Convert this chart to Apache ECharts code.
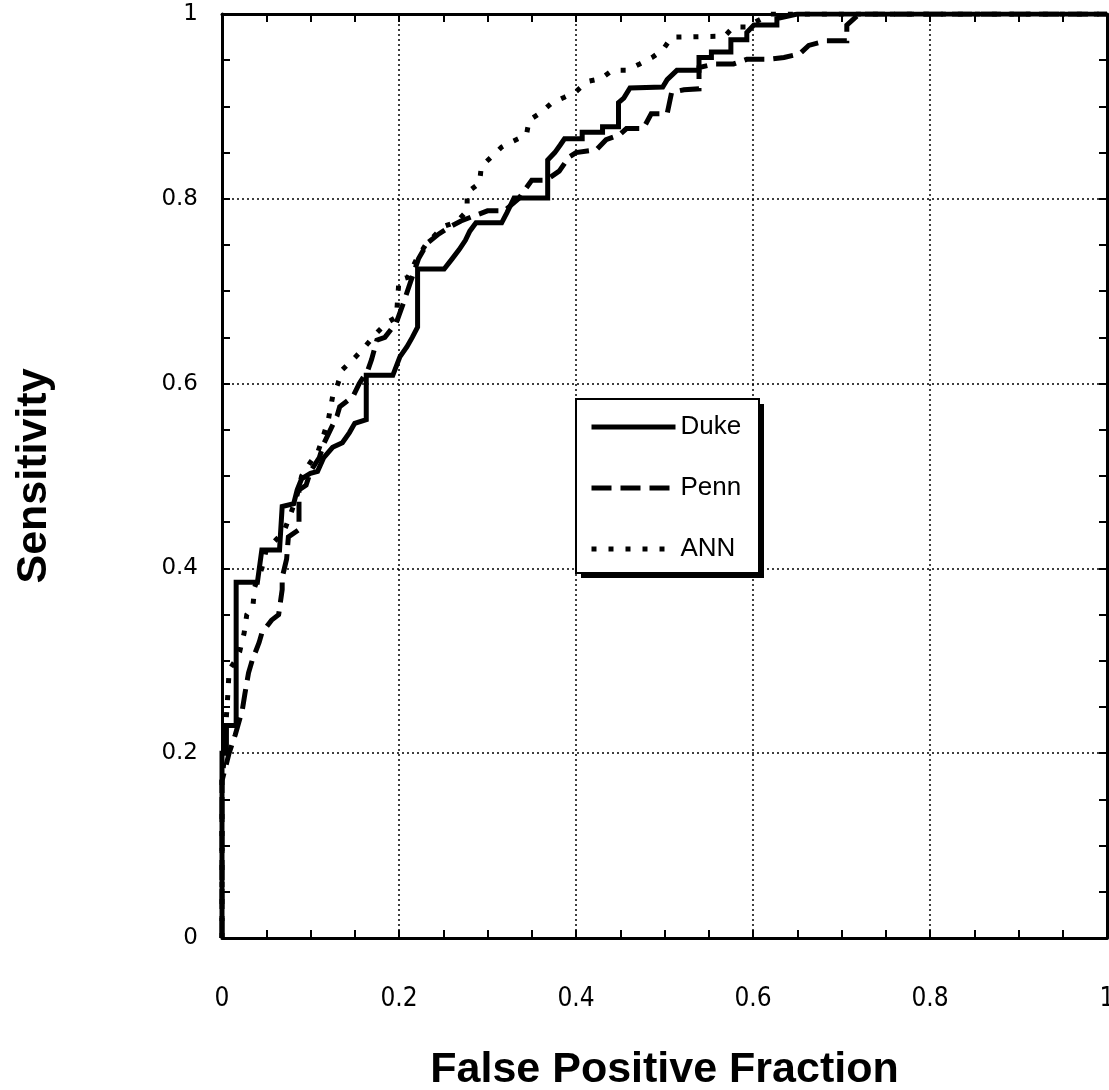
<!DOCTYPE html>
<html>
<head>
<meta charset="utf-8">
<title>ROC</title>
<script src="https://cdn.jsdelivr.net/npm/echarts@6/dist/echarts.min.js"></script>
<style>
  html, body { margin: 0; padding: 0; background: #fff; }
  #main { width: 1109px; height: 1090px; }
</style>
</head>
<body>
<div id="main"></div>
<script>
// ROC curves, [false positive fraction, sensitivity]
var dukePoints = [
  [0,0],[0,0.2],[0.005,0.2],[0.005,0.23],[0.016,0.23],[0.016,0.385],[0.04,0.385],[0.045,0.42],
  [0.065,0.42],[0.068,0.467],[0.081,0.47],[0.085,0.485],[0.09,0.497],[0.1,0.503],[0.108,0.505],
  [0.115,0.52],[0.125,0.531],[0.136,0.536],[0.144,0.547],[0.15,0.557],[0.163,0.561],[0.163,0.609],
  [0.193,0.609],[0.201,0.629],[0.209,0.64],[0.215,0.65],[0.221,0.661],[0.221,0.724],[0.251,0.724],
  [0.26,0.735],[0.268,0.745],[0.275,0.755],[0.28,0.765],[0.287,0.774],[0.316,0.774],[0.322,0.785],
  [0.33,0.801],[0.368,0.801],[0.368,0.842],[0.376,0.85],[0.382,0.858],[0.387,0.865],[0.407,0.865],
  [0.407,0.872],[0.43,0.872],[0.43,0.878],[0.448,0.878],[0.448,0.904],[0.454,0.909],[0.461,0.92],
  [0.498,0.921],[0.503,0.929],[0.514,0.939],[0.539,0.939],[0.539,0.953],[0.553,0.953],[0.553,0.959],
  [0.575,0.959],[0.575,0.972],[0.593,0.972],[0.593,0.98],[0.601,0.988],[0.627,0.988],[0.627,0.995],
  [0.65,1],[1,1]
];
var pennPoints = [
  [0,0],[0,0.17],[0.008,0.2],[0.015,0.22],[0.023,0.247],[0.026,0.265],[0.03,0.287],[0.034,0.3],
  [0.042,0.32],[0.045,0.33],[0.056,0.344],[0.064,0.35],[0.068,0.377],[0.068,0.39],[0.073,0.41],
  [0.075,0.434],[0.087,0.442],[0.087,0.485],[0.095,0.49],[0.1,0.505],[0.11,0.52],[0.115,0.535],
  [0.12,0.545],[0.125,0.555],[0.13,0.565],[0.133,0.575],[0.148,0.586],[0.155,0.6],[0.165,0.615],
  [0.169,0.626],[0.175,0.647],[0.184,0.65],[0.197,0.666],[0.206,0.69],[0.213,0.71],[0.222,0.735],
  [0.232,0.752],[0.245,0.762],[0.258,0.77],[0.27,0.776],[0.3,0.787],[0.319,0.787],[0.335,0.8],
  [0.35,0.82],[0.366,0.82],[0.381,0.83],[0.392,0.845],[0.4,0.85],[0.423,0.853],[0.434,0.864],
  [0.449,0.869],[0.457,0.876],[0.476,0.876],[0.485,0.892],[0.503,0.892],[0.508,0.915],[0.522,0.918],
  [0.539,0.919],[0.539,0.942],[0.557,0.946],[0.578,0.946],[0.593,0.951],[0.617,0.951],[0.635,0.953],
  [0.653,0.957],[0.663,0.966],[0.683,0.971],[0.706,0.971],[0.706,0.988],[0.72,1],[1,1]
];
var annPoints = [
  [0,0],[0,0.17],[0.003,0.2],[0.005,0.24],[0.007,0.27],[0.008,0.29],[0.015,0.3],[0.02,0.31],
  [0.025,0.33],[0.028,0.35],[0.035,0.36],[0.037,0.38],[0.045,0.4],[0.05,0.42],[0.06,0.43],
  [0.07,0.44],[0.078,0.46],[0.085,0.48],[0.09,0.5],[0.1,0.515],[0.108,0.525],[0.115,0.545],
  [0.12,0.56],[0.125,0.586],[0.131,0.6],[0.136,0.615],[0.148,0.626],[0.158,0.636],[0.175,0.655],
  [0.185,0.665],[0.197,0.672],[0.2,0.712],[0.21,0.715],[0.22,0.735],[0.23,0.75],[0.24,0.76],
  [0.25,0.77],[0.265,0.775],[0.277,0.787],[0.277,0.807],[0.291,0.817],[0.293,0.835],[0.304,0.845],
  [0.316,0.856],[0.328,0.862],[0.344,0.869],[0.347,0.885],[0.36,0.893],[0.373,0.904],[0.387,0.91],
  [0.4,0.916],[0.413,0.927],[0.428,0.93],[0.441,0.939],[0.457,0.939],[0.472,0.946],[0.486,0.953],
  [0.498,0.961],[0.508,0.975],[0.568,0.976],[0.578,0.986],[0.595,0.986],[0.6,0.99],[0.62,1],[1,1]
];
var seriesNames = ['Duke', 'Penn', 'ANN'];

var myChart = echarts.init(document.getElementById('main'), null, { renderer: 'canvas' });

var gridDots = { color: '#000', width: 1.5, type: [2, 3] };
var axisBase = {
  type: 'value',
  min: 0,
  max: 1,
  interval: 0.2,
  axisLine: { show: true, onZero: false, lineStyle: { color: '#000', width: 3 } },
  axisTick: { show: true, inside: true, length: 8, lineStyle: { color: '#000', width: 2 } },
  minorTick: { show: true, splitNumber: 4, length: 8, lineStyle: { color: '#000', width: 2 } }
};
function axis(extra) {
  return Object.assign({}, axisBase, extra);
}

var options = {
  animation: false,
  backgroundColor: '#fff',
  grid: { left: 222, right: 2, top: 14, bottom: 152, outerBoundsMode: 'none', containLabel: false },
  // legend frame with its drop shadow
  graphic: [
    { type: 'rect', left: 581, top: 404, z: 5, shape: { width: 183, height: 174 }, style: { fill: '#000' } },
    { type: 'rect', left: 575, top: 398, z: 6, shape: { width: 183, height: 174 }, style: { fill: '#fff', stroke: '#000', lineWidth: 2 } }
  ],
  legend: {
    data: seriesNames,
    orient: 'vertical',
    left: 575,
    top: 398,
    z: 10,
    padding: [16, 16, 14, 14],
    itemWidth: 84,
    itemHeight: 14,
    itemGap: 35,
    itemStyle: { opacity: 0 },
    lineStyle: { width: 5 },
    textStyle: { color: '#000', fontSize: 26, lineHeight: 25, fontFamily: "'Liberation Sans', Arial, sans-serif" }
  },
  xAxis: [
    axis({
      position: 'bottom',
      name: 'False Positive Fraction',
      nameLocation: 'middle',
      nameGap: 111,
      nameTextStyle: { color: '#000', fontSize: 43, fontWeight: 'bold', fontFamily: "'Liberation Sans', Arial, sans-serif" },
      axisLabel: { color: '#000', margin: 48, fontSize: 26, fontFamily: "'Liberation Sans Narrow', 'DejaVu Sans Condensed', 'Liberation Sans', sans-serif" },
      splitLine: { show: true, lineStyle: gridDots }
    }),
    axis({
      position: 'top',
      axisLabel: { show: false },
      splitLine: { show: false }
    })
  ],
  yAxis: [
    axis({
      position: 'left',
      name: 'Sensitivity',
      nameLocation: 'middle',
      nameGap: 166,
      nameRotate: 90,
      nameTextStyle: { color: '#000', fontSize: 43, fontWeight: 'bold', fontFamily: "'Liberation Sans', Arial, sans-serif" },
      axisLabel: { color: '#000', margin: 24, fontSize: 23, padding: [12, 0, 0, 0], fontFamily: "'DejaVu Sans', sans-serif" },
      splitLine: { show: true, lineStyle: gridDots }
    }),
    axis({
      position: 'right',
      axisLabel: { show: false },
      splitLine: { show: false }
    })
  ],
  series: [
    {
      name: 'Duke',
      type: 'line',
      data: dukePoints,
      showSymbol: false,
      symbol: 'none',
      z: 3,
      lineStyle: { color: '#000', width: 5, type: 'solid', cap: 'butt', join: 'miter' },
      itemStyle: { color: '#000' }
    },
    {
      name: 'Penn',
      type: 'line',
      data: pennPoints,
      showSymbol: false,
      symbol: 'none',
      z: 3,
      lineStyle: { color: '#000', width: 5, type: [20, 9], cap: 'butt', join: 'miter' },
      itemStyle: { color: '#000' }
    },
    {
      name: 'ANN',
      type: 'line',
      data: annPoints,
      showSymbol: false,
      symbol: 'none',
      z: 3,
      lineStyle: { color: '#000', width: 5, type: [5, 12], cap: 'butt', join: 'miter' },
      itemStyle: { color: '#000' }
    }
  ]
};

myChart.setOption(options, true);
window.onresize = function () {
  myChart.resize();
};
</script>
</body>
</html>
